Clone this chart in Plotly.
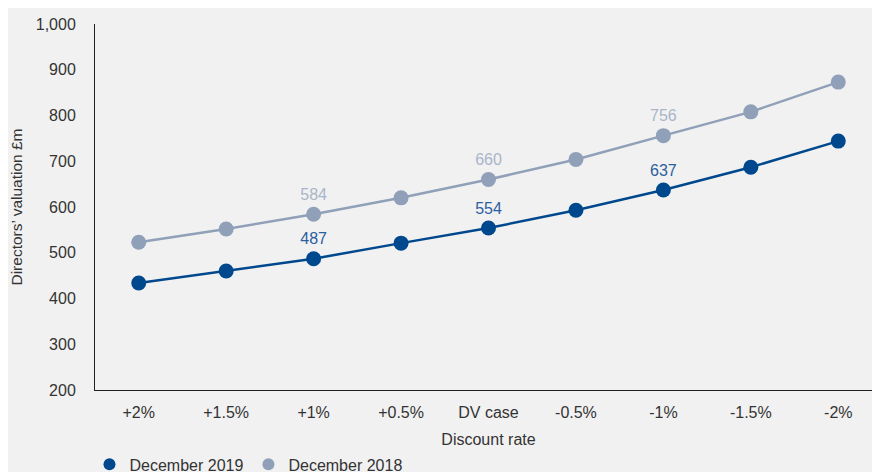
import plotly.graph_objects as go

rates = ["+2%", "+1.5%", "+1%", "+0.5%", "DV case", "-0.5%", "-1%", "-1.5%", "-2%"]
dec_2019 = [434, 460, 487, 521, 554, 593, 637, 687, 744]
dec_2018 = [523, 552, 584, 620, 660, 704, 756, 808, 873]
labelled = [2, 4, 6]

DARK = "#00488d"
LIGHT = "#8fa0b8"
FONT = "Liberation Sans, Arial"

def etiquetas(valores):
    return [str(v) if i in labelled else "" for i, v in enumerate(valores)]

fig = go.Figure()
for nome, valores, cor, cor_txt in [("December 2019", dec_2019, DARK, "#2c5f9e"),
                                    ("December 2018", dec_2018, LIGHT, "#a9b5c9")]:
    fig.add_trace(go.Scatter(
        x=rates, y=valores, name=nome, mode="lines+markers+text", showlegend=False,
        line=dict(color=cor, width=2.5), marker=dict(size=15, color=cor),
        text=etiquetas(valores), textposition="top center",
        textfont=dict(color=cor_txt, size=16, family=FONT),
    ))
    # legenda só com o marcador
    fig.add_trace(go.Scatter(
        x=[None], y=[None], name=nome, mode="markers",
        marker=dict(size=15, color=cor),
    ))

# a página tem 8px de margem no body: margens compensadas
fig.update_layout(
    width=880, height=472,
    paper_bgcolor="#f1f1f1", plot_bgcolor="#f1f1f1",
    font=dict(family=FONT, size=16, color="#333333"),
    margin=dict(l=87, r=6, t=16, b=90, autoexpand=False),
    showlegend=True,
    legend=dict(orientation="h", x=-0.007, xanchor="left", y=-0.157, yanchor="top",
                font=dict(size=16), itemsizing="constant", traceorder="normal",
                itemwidth=30, tracegroupgap=0),
)
fig.update_xaxes(
    range=[-0.5, 8.5], showline=True, linecolor="#222222", linewidth=1,
    showgrid=False, ticks="", ticklabelstandoff=8, automargin=False,
    tickfont=dict(size=16),
    title=dict(text="Discount rate", standoff=13, font=dict(size=16)),
)
fig.update_yaxes(
    range=[200, 1000], dtick=100, tickformat=",", showline=True,
    linecolor="#222222", linewidth=1, showgrid=False, zeroline=False,
    ticks="", ticklabelstandoff=15, automargin=False,
    tickfont=dict(size=16),
    title=dict(text="Directors’ valuation £m", standoff=10, font=dict(size=15.5)),
)

fig.write_html("out.html")
